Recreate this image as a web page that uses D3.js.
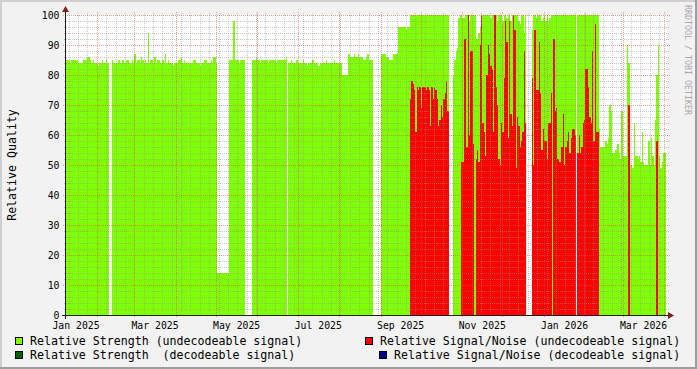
<!DOCTYPE html>
<html>
<head>
<meta charset="utf-8">
<script src="https://cdn.jsdelivr.net/npm/d3@7"></script>
<style>
  body { margin: 0; background: #f2f2f2; }
  svg { display: block; }
  text { font-family: "DejaVu Sans Mono", monospace; }
</style>
</head>
<body>
<div id="chart"></div>
<script>
// daily values, first day = strengthStart, null = no data
var strengthStart = new Date(2025, 0, 9);
var strength = [
  85,85,85,84,85,85,85,85,85,84, 84,84,84,85,85,85,86,86,85,84,
  85,84,84,84,83,84,84,85,84,84, 85,84,null,null,85,84,84,84,84,85,
  84,84,85,84,84,85,85,84,84,85, 84,87,84,85,85,84,86,85,84,85,
  84,94,84,85,85,84,86,84,85,85, 84,84,85,84,87,84,85,84,84,84,
  83,84,84,84,85,85,86,84,85,84, 84,84,84,84,84,85,85,84,84,84,
  83,84,84,85,85,84,84,84,85,84, 86,86,84,14,14,14,14,14,14,14,
  14,14,85,85,85,98,85,85,85,84, 85,85,85,85,null,null,null,null,null,85,
  85,85,86,85,85,84,85,85,85,85, 85,84,85,85,85,85,85,84,85,85,
  85,85,85,85,86,null,84,84,85,84, 84,84,85,84,84,84,84,85,84,84,
  83,84,84,84,85,84,84,84,83,83, 84,84,84,84,85,84,84,84,84,84,
  85,84,84,84,84,84,80,80,80,80, 80,87,86,86,86,87,86,86,87,86,
  86,86,85,85,86,87,85,85,85,null, null,null,null,null,null,87,87,87,87,86,
  86,85,85,85,87,87,87,87,96,96, 96,96,96,96,95,96,96,100,100,100,
  100,100,100,100,100,100,100,100,100,100, 100,100,100,100,100,100,100,100,100,100,
  100,100,100,100,100,100,null,null,null,80, 85,88,89,99,100,100,99,99,100,100,
  100,98,100,100,100,100,92,92,94,96, 100,100,100,100,100,100,100,99,100,100,
  100,100,98,100,100,100,98,100,100,99, 100,100,98,100,98,100,100,100,98,97,
  100,100,94,100,null,null,null,null,95,100, 100,99,100,100,100,98,99,100,98,100,
  98,99,100,100,100,100,100,100,100,100, 100,100,100,100,100,100,100,100,100,100,
  100,null,100,100,100,100,100,100,100,100, 100,100,100,100,100,100,100,100,62,56,
  56,56,56,58,57,59,70,68,54,54, 55,55,57,54,52,68,53,53,53,90,
  84,50,50,49,64,53,53,52,53,51, 61,51,50,50,50,58,50,59,53,50,
  65,80,90,53,49,51,54,54
];

var snrStart = new Date(2025, 8, 23);
var snr = [
  72,78,77,75,61,76,75,76,69,76, 76,76,75,76,75,63,76,72,76,75,
  72,63,65,70,66,72,74,78,68,null, null,null,0,0,0,0,0,0,51,51,
  92,92,56,100,60,88,88,57,0,52, 55,51,90,100,64,61,53,80,90,87,
  83,82,61,100,76,70,52,50,64,61, 79,98,91,59,98,67,63,100,95,49,
  66,63,56,58,61,88,64,null,null,null, null,79,50,95,75,75,91,74,55,62,
  58,58,52,64,64,74,0,92,68,69, 52,51,51,56,67,50,56,58,61,54,
  59,62,62,60,null,54,60,54,56,64, 65,82,82,76,66,64,88,58,97,61,
  61,0,0,0,0,0,0,0,0,0, 0,0,0,0,0,0,0,0,0,0,
  0,0,0,70,0,0,0,0,0,0, 0,0,0,0,0,0,0,0,0,0,
  0,0,0,0,58,0,0,0,0,0, 0
];

var yTicks = [0, 10, 20, 30, 40, 50, 60, 70, 80, 90, 100];
var xLabelMonths = [new Date(2025,0,1), new Date(2025,2,1), new Date(2025,4,1), new Date(2025,6,1),
                    new Date(2025,8,1), new Date(2025,10,1), new Date(2026,0,1), new Date(2026,2,1)];
var xLabels = ["Jan 2025", "Mar 2025", "May 2025", "Jul 2025", "Sep 2025", "Nov 2025", "Jan 2026", "Mar 2026"];
var legendNames = ["Relative Strength (undecodeable signal)", "Relative Signal/Noise (undecodeable signal)",
                   "Relative Strength  (decodeable signal)", "Relative Signal/Noise (decodeable signal)"];
var legendColors = ["#80ff00", "#ff0000", "#006400", "#000088"];

var width = 697, height = 369;
var plot = {left: 66, right: 667, top: 15, bottom: 315};

var svg = d3.select("#chart").append("svg")
    .attr("width", width).attr("height", height);

svg.append("rect").attr("width", width).attr("height", height).attr("fill", "#f2f2f2");
// shaded frame
svg.append("path").attr("d", "M0,1H697M1,0V369").attr("stroke", "#cfcfcf").attr("stroke-width", 2);
svg.append("path").attr("d", "M0,368H697M696,0V369").attr("stroke", "#9e9e9e").attr("stroke-width", 2);

var x = d3.scaleTime()
    .domain([strengthStart, d3.timeDay.offset(strengthStart, 449)])
    .range([plot.left, plot.right]);
var y = d3.scaleLinear().domain([0, 100]).range([plot.bottom, plot.top]);

svg.append("rect")
    .attr("x", plot.left).attr("y", plot.top)
    .attr("width", plot.right - plot.left).attr("height", plot.bottom - plot.top)
    .attr("fill", "#fff");

function toDays(values, start) {
    return values.map(function(v, i) {
        return {d0: d3.timeDay.offset(start, i), d1: d3.timeDay.offset(start, i + 1), v: v};
    }).filter(function(d) { return d.v !== null && d.v > 0; });
}

function drawBars(data, color) {
    svg.append("g").attr("shape-rendering", "crispEdges")
        .selectAll("rect").data(data).enter().append("rect")
        .attr("x", function(d) { return Math.round(x(d.d0)); })
        .attr("width", function(d) { return Math.round(x(d.d1)) - Math.round(x(d.d0)); })
        .attr("y", function(d) { return Math.round(y(d.v)); })
        .attr("height", function(d) { return plot.bottom - Math.round(y(d.v)); })
        .attr("fill", color);
}

drawBars(toDays(strength, strengthStart), legendColors[0]);
drawBars(toDays(snr, snrStart), legendColors[1]);

// grid
var grid = svg.append("g").attr("shape-rendering", "crispEdges").attr("stroke-dasharray", "1,1");
var endDate = x.domain()[1];
var months = d3.timeMonth.range(x.domain()[0], endDate);
var weeks = d3.timeSaturday.range(x.domain()[0], endDate).filter(function(d) {
    return d.getDate() !== 1;
});
var minorY = d3.range(2, 100, 2).filter(function(v) { return v % 10 !== 0; });

grid.selectAll(".hmin").data(minorY).enter().append("line")
    .attr("x1", plot.left - 2).attr("x2", plot.right + 2)
    .attr("y1", function(v) { return y(v) + 0.5; }).attr("y2", function(v) { return y(v) + 0.5; })
    .attr("stroke", "rgba(143,143,143,0.5)");
grid.selectAll(".vmin").data(weeks).enter().append("line")
    .attr("x1", function(d) { return Math.round(x(d)) + 0.5; })
    .attr("x2", function(d) { return Math.round(x(d)) + 0.5; })
    .attr("y1", plot.top - 2).attr("y2", plot.bottom + 2)
    .attr("stroke", "rgba(143,143,143,0.5)");
grid.selectAll(".hmaj").data(yTicks.slice(1)).enter().append("line")
    .attr("x1", plot.left - 3).attr("x2", plot.right + 3)
    .attr("y1", function(v) { return y(v) + 0.5; }).attr("y2", function(v) { return y(v) + 0.5; })
    .attr("stroke", "rgba(222,79,79,0.55)");
grid.selectAll(".vmaj").data(months).enter().append("line")
    .attr("x1", function(d) { return Math.round(x(d)) + 0.5; })
    .attr("x2", function(d) { return Math.round(x(d)) + 0.5; })
    .attr("y1", plot.top - 3).attr("y2", plot.bottom + 3)
    .attr("stroke", "rgba(222,79,79,0.55)");

// axes
svg.append("path").attr("d", "M62,315.5H669M65.5,319V11")
    .attr("stroke", "#1f1f1f").attr("fill", "none");
svg.append("path").attr("d", "M668,312L674,315.5L668,319Z").attr("fill", "#801f1f");
svg.append("path").attr("d", "M62,12L65.5,6L69,12Z").attr("fill", "#801f1f");

// tick labels
svg.append("g").selectAll("text").data(yTicks).enter().append("text")
    .attr("x", 59.5).attr("y", function(v) { return y(v); })
    .attr("dy", "0.36em").attr("text-anchor", "end")
    .attr("font-size", "9.8px").text(function(v) { return v; });

svg.append("g").selectAll("text").data(xLabelMonths).enter().append("text")
    .attr("x", function(d) { return (x(d) + x(d3.timeMonth.offset(d, 1))) / 2; })
    .attr("y", 328.5).attr("text-anchor", "middle")
    .attr("font-size", "9.8px").text(function(d, i) { return xLabels[i]; });

svg.append("text")
    .attr("transform", "translate(11.5,165) rotate(-90)")
    .attr("text-anchor", "middle").attr("dy", "0.36em")
    .attr("font-size", "11.6px").text("Relative Quality");

svg.append("text")
    .attr("transform", "translate(687.5,5) rotate(90)")
    .attr("dy", "0.36em").attr("font-size", "8.3px").attr("fill", "#a8a8a8")
    .text("RRDTOOL / TOBI OETIKER");

// legend
var legendPos = [[15, 337, 30], [365, 337, 380], [15, 351, 30], [379, 351, 394]];
var legend = svg.append("g").selectAll("g").data(legendNames).enter().append("g");
legend.append("rect")
    .attr("x", function(d, i) { return legendPos[i][0] + 0.5; })
    .attr("y", function(d, i) { return legendPos[i][1] + 0.5; })
    .attr("width", 7).attr("height", 7)
    .attr("fill", function(d, i) { return legendColors[i]; })
    .attr("stroke", "#000");
legend.append("text")
    .attr("x", function(d, i) { return legendPos[i][2]; })
    .attr("y", function(d, i) { return legendPos[i][1] + 8; })
    .attr("font-size", "11.6px").attr("xml:space", "preserve")
    .style("white-space", "pre")
    .text(function(d) { return d; });
</script>
</body>
</html>
